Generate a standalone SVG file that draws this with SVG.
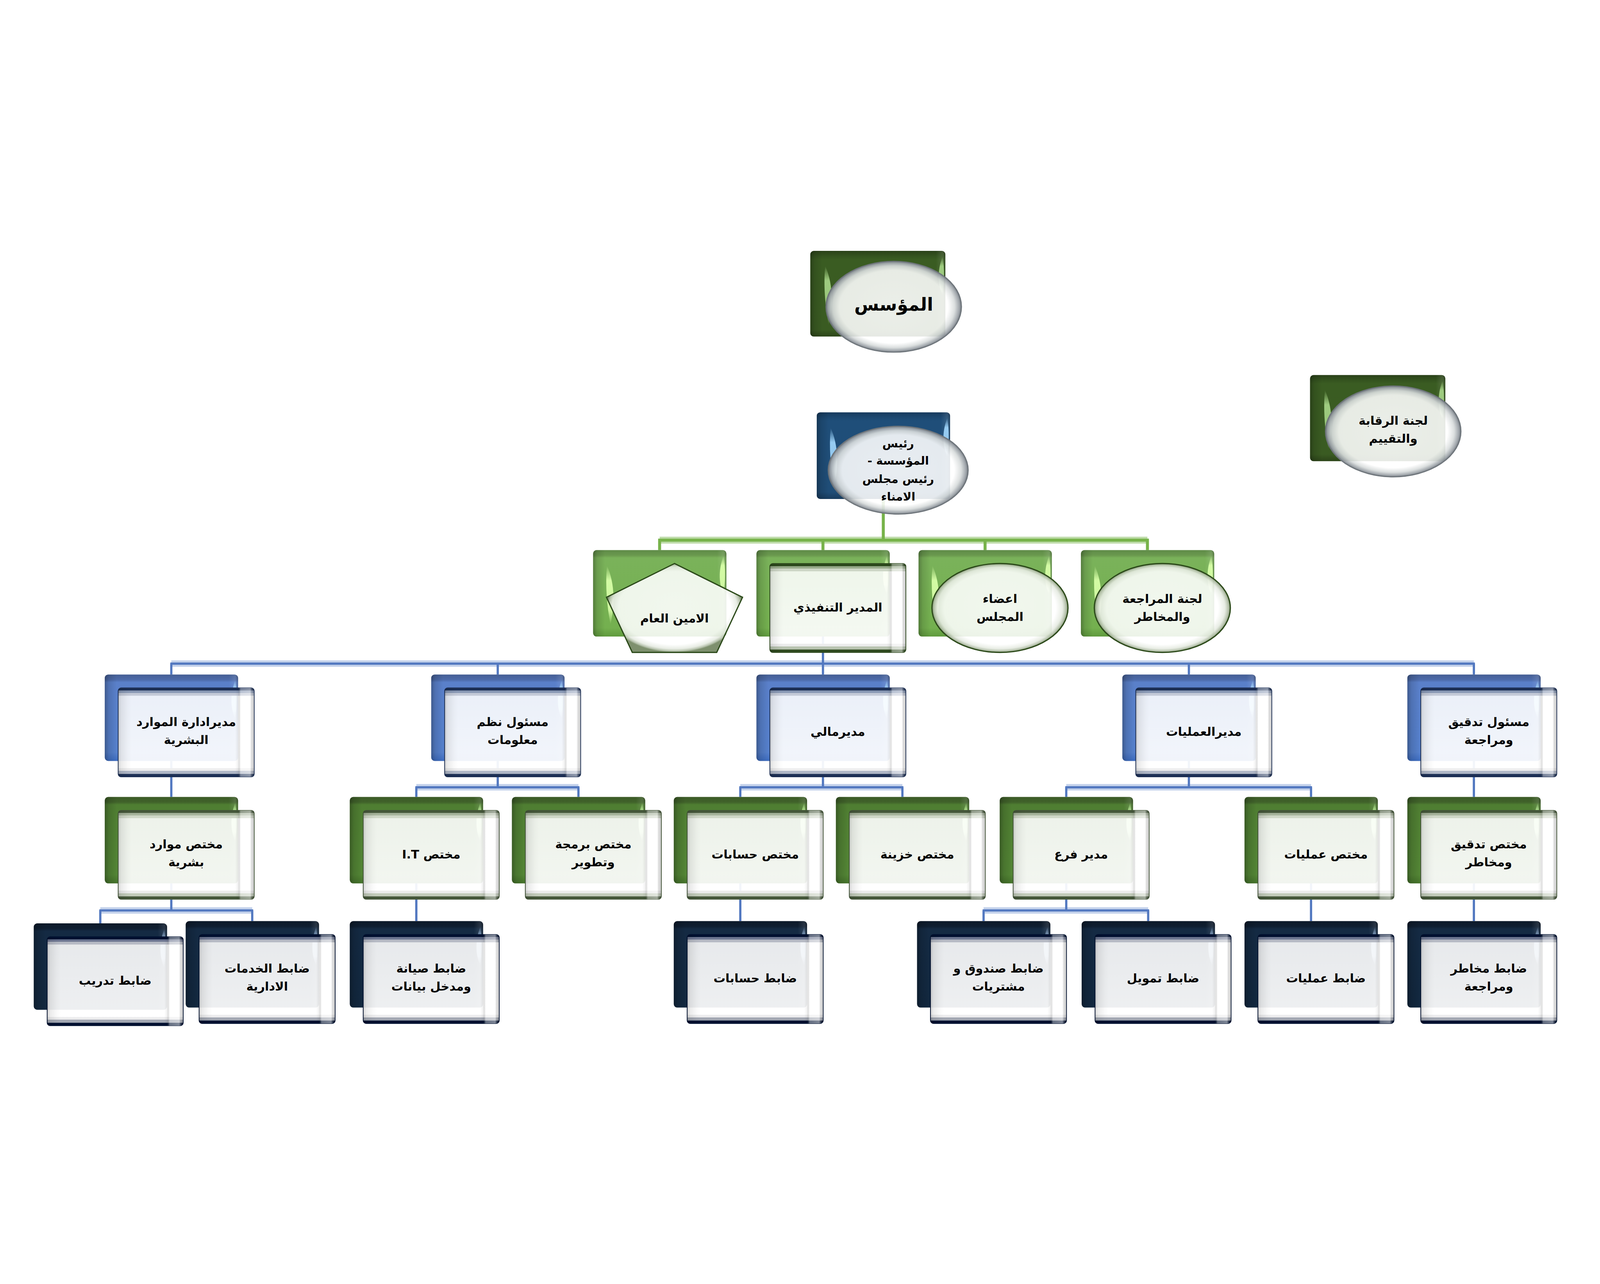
<svg xmlns="http://www.w3.org/2000/svg" width="6445" height="3286" viewBox="0 0 6445 3286" style="width:100vw;height:100vh">
<defs>
<style>
.t{font-family:"DejaVu Sans","Noto Sans",sans-serif;font-size:48px;font-weight:bold;fill:#000;text-anchor:middle;direction:rtl;unicode-bidi:embed}
.t1{font-size:46px}
.t0{font-size:72px}
.bdg{fill:url(#bk-dg)}.bdb{fill:url(#bk-db)}.blg{fill:url(#bk-lg)}.bb3{fill:url(#bk-b3)}.bg4{fill:url(#bk-g4)}.bn5{fill:url(#bk-n5)}
.bx{fill:url(#bx)}.fx{fill:url(#frx)}
.hdg{fill:url(#hl-dg)}.hdb{fill:url(#hl-db)}.hlg{fill:url(#hl-lg)}.hb3{fill:url(#hl-b3)}.hg4{fill:url(#hl-g4)}.hn5{fill:url(#hl-n5)}
.fg2{fill:url(#fr-g2);stroke:#2c481c;stroke-width:3}
.fb3{fill:url(#fr-b3);stroke:#1c2f55;stroke-width:3}
.fg4{fill:url(#fr-g4);stroke:#45573a;stroke-width:3}
.fn5{fill:url(#fr-n5);stroke:#001030;stroke-width:3}
.feg{fill:url(#fe-g);stroke:#2c4a1a;stroke-width:5}
.fes{fill:url(#fe-s);stroke:#6d747a;stroke-width:4}
.cg{fill:none;stroke:#77b34a;stroke-width:12}
.hgl{fill:none;stroke:#a9d08f;stroke-width:28;opacity:.75}
.cb{fill:none;stroke:#5278c0;stroke-width:9}
.hbl{fill:none;stroke:#b5c7e6;stroke-width:26;opacity:.8}
</style>
<linearGradient id="bk-dg" x1="0" y1="0" x2="0" y2="1"><stop offset="0" stop-color="#2a4119"/><stop offset=".06" stop-color="#34531f"/><stop offset=".1" stop-color="#3a5c22"/><stop offset=".92" stop-color="#3a5b22"/><stop offset="1" stop-color="#2c4419"/></linearGradient>
<linearGradient id="bk-db" x1="0" y1="0" x2="0" y2="1"><stop offset="0" stop-color="#173a5d"/><stop offset=".06" stop-color="#1c4870"/><stop offset=".1" stop-color="#1f4e79"/><stop offset=".92" stop-color="#1f4d77"/><stop offset="1" stop-color="#183c5e"/></linearGradient>
<linearGradient id="bk-lg" x1="0" y1="0" x2="0" y2="1"><stop offset="0" stop-color="#5f8b48"/><stop offset=".06" stop-color="#6a994e"/><stop offset=".09" stop-color="#7ab25a"/><stop offset=".9" stop-color="#74b04f"/><stop offset="1" stop-color="#5f9a3d"/></linearGradient>
<linearGradient id="bk-b3" x1="0" y1="0" x2="0" y2="1"><stop offset="0" stop-color="#455f94"/><stop offset=".06" stop-color="#4c6aa9"/><stop offset=".09" stop-color="#5a80ca"/><stop offset=".9" stop-color="#5580cc"/><stop offset="1" stop-color="#3d6cc0"/></linearGradient>
<linearGradient id="bk-g4" x1="0" y1="0" x2="0" y2="1"><stop offset="0" stop-color="#3c5b27"/><stop offset=".06" stop-color="#40622a"/><stop offset=".09" stop-color="#4f7e32"/><stop offset=".9" stop-color="#538535"/><stop offset="1" stop-color="#44722a"/></linearGradient>
<linearGradient id="bk-n5" x1="0" y1="0" x2="0" y2="1"><stop offset="0" stop-color="#0d1a2a"/><stop offset=".06" stop-color="#0f1e31"/><stop offset=".09" stop-color="#142a43"/><stop offset="1" stop-color="#12283f"/></linearGradient>
<linearGradient id="bx" x1="0" y1="0" x2="1" y2="0"><stop offset="0" stop-color="#000" stop-opacity=".3"/><stop offset=".03" stop-color="#000" stop-opacity=".12"/><stop offset=".09" stop-color="#000" stop-opacity="0"/><stop offset=".93" stop-color="#fff" stop-opacity="0"/><stop offset=".975" stop-color="#fff" stop-opacity=".1"/><stop offset="1" stop-color="#000" stop-opacity=".25"/></linearGradient>
<linearGradient id="hl-dg" x1="0" y1="0" x2="0" y2="1"><stop offset="0" stop-color="#a3d184" stop-opacity="0"/><stop offset=".25" stop-color="#a3d184" stop-opacity=".95"/><stop offset=".75" stop-color="#a3d184" stop-opacity=".9"/><stop offset="1" stop-color="#a3d184" stop-opacity="0"/></linearGradient>
<linearGradient id="hl-db" x1="0" y1="0" x2="0" y2="1"><stop offset="0" stop-color="#9cd2f8" stop-opacity="0"/><stop offset=".25" stop-color="#9cd2f8" stop-opacity=".95"/><stop offset=".75" stop-color="#9cd2f8" stop-opacity=".9"/><stop offset="1" stop-color="#9cd2f8" stop-opacity="0"/></linearGradient>
<linearGradient id="hl-lg" x1="0" y1="0" x2="0" y2="1"><stop offset="0" stop-color="#d8ffa8" stop-opacity="0"/><stop offset=".25" stop-color="#d8ffa8" stop-opacity=".95"/><stop offset=".75" stop-color="#d8ffa8" stop-opacity=".9"/><stop offset="1" stop-color="#d8ffa8" stop-opacity="0"/></linearGradient>
<linearGradient id="hl-b3" x1="0" y1="0" x2="0" y2="1"><stop offset="0" stop-color="#aee0ff" stop-opacity="0"/><stop offset=".25" stop-color="#aee0ff" stop-opacity=".95"/><stop offset=".75" stop-color="#aee0ff" stop-opacity=".9"/><stop offset="1" stop-color="#aee0ff" stop-opacity="0"/></linearGradient>
<linearGradient id="hl-g4" x1="0" y1="0" x2="0" y2="1"><stop offset="0" stop-color="#c4f8a0" stop-opacity="0"/><stop offset=".25" stop-color="#c4f8a0" stop-opacity=".95"/><stop offset=".75" stop-color="#c4f8a0" stop-opacity=".9"/><stop offset="1" stop-color="#c4f8a0" stop-opacity="0"/></linearGradient>
<linearGradient id="hl-n5" x1="0" y1="0" x2="0" y2="1"><stop offset="0" stop-color="#90aed0" stop-opacity="0"/><stop offset=".25" stop-color="#90aed0" stop-opacity=".95"/><stop offset=".75" stop-color="#90aed0" stop-opacity=".9"/><stop offset="1" stop-color="#90aed0" stop-opacity="0"/></linearGradient>
<linearGradient id="fr-n5" x1="0" y1="0" x2="0" y2="1"><stop offset="0" stop-color="#001030"/><stop offset=".028" stop-color="#001030"/><stop offset=".03" stop-color="#6c7590"/><stop offset=".055" stop-color="#6c7590"/><stop offset=".058" stop-color="#b6bac4"/><stop offset=".085" stop-color="#b6bac4"/><stop offset=".09" stop-color="#fff" stop-opacity=".9"/><stop offset=".9" stop-color="#fff" stop-opacity=".93"/><stop offset=".905" stop-color="#ededee"/><stop offset=".93" stop-color="#ededee"/><stop offset=".935" stop-color="#a2a7b2"/><stop offset=".965" stop-color="#a2a7b2"/><stop offset=".97" stop-color="#001030"/><stop offset="1" stop-color="#001030"/></linearGradient>
<linearGradient id="fr-b3" x1="0" y1="0" x2="0" y2="1"><stop offset="0" stop-color="#1c2f55"/><stop offset=".028" stop-color="#1c2f55"/><stop offset=".03" stop-color="#8797b4"/><stop offset=".055" stop-color="#8797b4"/><stop offset=".058" stop-color="#c3c9d7"/><stop offset=".085" stop-color="#c3c9d7"/><stop offset=".09" stop-color="#fff" stop-opacity=".88"/><stop offset=".9" stop-color="#fff" stop-opacity=".93"/><stop offset=".905" stop-color="#eeeeef"/><stop offset=".93" stop-color="#eeeeef"/><stop offset=".935" stop-color="#aeb6c6"/><stop offset=".965" stop-color="#aeb6c6"/><stop offset=".97" stop-color="#1c2f55"/><stop offset="1" stop-color="#1c2f55"/></linearGradient>
<linearGradient id="fr-g4" x1="0" y1="0" x2="0" y2="1"><stop offset="0" stop-color="#45573a"/><stop offset=".028" stop-color="#45573a"/><stop offset=".03" stop-color="#a6b39b"/><stop offset=".055" stop-color="#a6b39b"/><stop offset=".058" stop-color="#cfd7c7"/><stop offset=".085" stop-color="#cfd7c7"/><stop offset=".09" stop-color="#fff" stop-opacity=".9"/><stop offset=".9" stop-color="#fff" stop-opacity=".93"/><stop offset=".905" stop-color="#ececec"/><stop offset=".93" stop-color="#ececec"/><stop offset=".935" stop-color="#c2cbba"/><stop offset=".965" stop-color="#c2cbba"/><stop offset=".97" stop-color="#45573a"/><stop offset="1" stop-color="#45573a"/></linearGradient>
<linearGradient id="fr-g2" x1="0" y1="0" x2="0" y2="1"><stop offset="0" stop-color="#2c481c"/><stop offset=".028" stop-color="#2c481c"/><stop offset=".03" stop-color="#97aa8a"/><stop offset=".055" stop-color="#97aa8a"/><stop offset=".058" stop-color="#cdd6c6"/><stop offset=".085" stop-color="#cdd6c6"/><stop offset=".09" stop-color="#fff" stop-opacity=".88"/><stop offset=".9" stop-color="#fff" stop-opacity=".93"/><stop offset=".905" stop-color="#ececec"/><stop offset=".93" stop-color="#ececec"/><stop offset=".935" stop-color="#b8c3b0"/><stop offset=".965" stop-color="#b8c3b0"/><stop offset=".97" stop-color="#2f4a1f"/><stop offset="1" stop-color="#2f4a1f"/></linearGradient>
<linearGradient id="frx" x1="0" y1="0" x2="1" y2="0"><stop offset="0" stop-color="#000" stop-opacity=".18"/><stop offset=".02" stop-color="#000" stop-opacity=".08"/><stop offset=".07" stop-color="#000" stop-opacity=".02"/><stop offset=".1" stop-color="#000" stop-opacity="0"/><stop offset=".86" stop-color="#000" stop-opacity="0"/><stop offset=".88" stop-color="#000" stop-opacity=".05"/><stop offset=".9" stop-color="#fff" stop-opacity=".4"/><stop offset=".97" stop-color="#fff" stop-opacity=".5"/><stop offset="1" stop-color="#000" stop-opacity=".12"/></linearGradient>
<radialGradient id="fe-g" cx=".5" cy=".5" r=".5"><stop offset="0" stop-color="#fff" stop-opacity=".9"/><stop offset=".82" stop-color="#fff" stop-opacity=".88"/><stop offset=".92" stop-color="#e6ebe2" stop-opacity=".92"/><stop offset=".97" stop-color="#b4c0aa" stop-opacity=".95"/><stop offset="1" stop-color="#7e906e"/></radialGradient>
<radialGradient id="fe-s" cx=".5" cy=".5" r=".5"><stop offset="0" stop-color="#fff" stop-opacity=".9"/><stop offset=".8" stop-color="#fff" stop-opacity=".88"/><stop offset=".9" stop-color="#d8dcdc" stop-opacity=".92"/><stop offset=".97" stop-color="#9aa0a6" stop-opacity=".95"/><stop offset="1" stop-color="#6a7076"/></radialGradient>
</defs>
<rect width="6445" height="3286" fill="#fff"/>

<g id="connectors">
<path class="hgl" d="M2657,1233 H4622"/>
<path class="cg" d="M3558,1067 V1233 M2651,1233 H4628 M2657,1233 V1273 M3315,1233 V1273 M3968,1233 V1273 M4622,1233 V1273"/>
<path class="hbl" d="M690,1730 H5937 M1677,2228 H2330 M2982,2228 H3635 M4295,2228 H5281 M404,2724 H1016 M3962,2724 H4625"/>
<path class="cb" d="M3315,1621 V1730 M686,1730 H5941 M690,1730 V1774 M2005,1730 V1774 M3315,1730 V1774 M4789,1730 V1774 M5937,1730 V1774
M690,2122 V2267 M2005,2122 V2228 M1673,2228 H2334 M1677,2228 V2267 M2330,2228 V2267
M3315,2122 V2228 M2978,2228 H3639 M2982,2228 V2267 M3635,2228 V2267
M4789,2122 V2228 M4291,2228 H5285 M4295,2228 V2267 M5281,2228 V2267 M5937,2122 V2267
M690,2615 V2724 M400,2724 H1020 M404,2724 V2776 M1016,2724 V2767 M1677,2615 V2767 M2982,2615 V2767
M4295,2615 V2724 M3958,2724 H4629 M3962,2724 V2767 M4625,2724 V2767 M5281,2615 V2767 M5937,2615 V2767"/>
</g>

<g id="n-founder" transform="translate(3264,68)">
<rect class="bdg" width="544" height="345" rx="14"/><rect class="bx" width="544" height="345" rx="14"/>
<path class="hdg" d="M533,22 C541,70 540,130 533,180 C515,140 509,85 533,22 Z"/>
<path class="hdg" d="M60,60 C90,128 94,213 74,298 C59,218 53,138 60,60 Z"/>
<ellipse class="fes" cx="336" cy="225" rx="273" ry="183"/>
<text class="t t0" x="336" y="240">المؤسس</text>
</g>

<g id="n-oversight" transform="translate(5277,568)">
<rect class="bdg" width="545" height="347" rx="14"/><rect class="bx" width="545" height="347" rx="14"/>
<path class="hdg" d="M534,22 C542,70 541,130 534,180 C516,140 510,85 534,22 Z"/>
<path class="hdg" d="M60,60 C90,128 94,213 74,298 C59,218 53,138 60,60 Z"/>
<ellipse class="fes" cx="335" cy="227" rx="273" ry="183"/>
<text class="t" x="335" y="200">لجنة الرقابة</text>
<text class="t" x="335" y="273">والتقييم</text>
</g>

<g id="n-chairman" transform="translate(3290,718)">
<rect class="bdb" width="537" height="349" rx="14"/><rect class="bx" width="537" height="349" rx="14"/>
<path class="hdb" d="M526,22 C534,70 533,130 526,180 C508,140 502,85 526,22 Z"/>
<path class="hdb" d="M56,62 C86,130 90,215 70,300 C55,220 49,140 56,62 Z"/>
<ellipse class="fes" cx="328" cy="233" rx="282" ry="177"/>
<text class="t t1" x="328" y="142">رئيس</text>
<text class="t t1" x="328" y="211">المؤسسة -</text>
<text class="t t1" x="328" y="284">رئيس مجلس</text>
<text class="t t1" x="328" y="355">الامناء</text>
</g>

<g id="n-secretary" transform="translate(2389,1273)">
<rect class="blg" width="537" height="348" rx="14"/><rect class="bx" width="537" height="348" rx="14"/>
<path class="hlg" d="M526,22 C534,70 533,130 526,180 C508,140 502,85 526,22 Z"/>
<path class="hlg" d="M56,62 C86,130 90,215 70,300 C55,220 49,140 56,62 Z"/>
<polygon class="feg" points="328,54 602,190 498,412 158,412 54,190"/>
<text class="t" x="328" y="292">الامين العام</text>
</g>

<g id="n-ceo" transform="translate(3047,1273)">
<rect class="blg" width="537" height="348" rx="14"/><rect class="bx" width="537" height="348" rx="14"/>
<path class="hlg" d="M526,22 C534,70 533,130 526,180 C508,140 502,85 526,22 Z"/>
<rect class="fg2" x="54" y="54" width="548" height="358" rx="12"/><rect class="fx" x="54" y="54" width="548" height="358" rx="12"/>
<text class="t" x="328" y="248">المدير التنفيذي</text>
</g>

<g id="n-board" transform="translate(3700,1273)">
<rect class="blg" width="537" height="348" rx="14"/><rect class="bx" width="537" height="348" rx="14"/>
<path class="hlg" d="M526,22 C534,70 533,130 526,180 C508,140 502,85 526,22 Z"/>
<path class="hlg" d="M56,62 C86,130 90,215 70,300 C55,220 49,140 56,62 Z"/>
<ellipse class="feg" cx="328" cy="233" rx="274" ry="179"/>
<text class="t" x="328" y="213">اعضاء</text>
<text class="t" x="328" y="285">المجلس</text>
</g>

<g id="n-audit-committee" transform="translate(4354,1273)">
<rect class="blg" width="537" height="348" rx="14"/><rect class="bx" width="537" height="348" rx="14"/>
<path class="hlg" d="M526,22 C534,70 533,130 526,180 C508,140 502,85 526,22 Z"/>
<path class="hlg" d="M56,62 C86,130 90,215 70,300 C55,220 49,140 56,62 Z"/>
<ellipse class="feg" cx="328" cy="233" rx="274" ry="179"/>
<text class="t" x="328" y="213">لجنة المراجعة</text>
<text class="t" x="328" y="285">والمخاطر</text>
</g>

<g id="n-hr-manager" transform="translate(422,1774)">
<rect class="bb3" width="537" height="348" rx="14"/><rect class="bx" width="537" height="348" rx="14"/>
<path class="hb3" d="M526,22 C534,70 533,130 526,180 C508,140 502,85 526,22 Z"/>
<rect class="fb3" x="54" y="54" width="548" height="358" rx="12"/><rect class="fx" x="54" y="54" width="548" height="358" rx="12"/>
<text class="t" x="328" y="207">مديرادارة الموارد</text>
<text class="t" x="328" y="279">البشرية</text>
</g>

<g id="n-is-officer" transform="translate(1737,1774)">
<rect class="bb3" width="537" height="348" rx="14"/><rect class="bx" width="537" height="348" rx="14"/>
<path class="hb3" d="M526,22 C534,70 533,130 526,180 C508,140 502,85 526,22 Z"/>
<rect class="fb3" x="54" y="54" width="548" height="358" rx="12"/><rect class="fx" x="54" y="54" width="548" height="358" rx="12"/>
<text class="t" x="328" y="207">مسئول نظم</text>
<text class="t" x="328" y="279">معلومات</text>
</g>

<g id="n-finance-manager" transform="translate(3047,1774)">
<rect class="bb3" width="537" height="348" rx="14"/><rect class="bx" width="537" height="348" rx="14"/>
<path class="hb3" d="M526,22 C534,70 533,130 526,180 C508,140 502,85 526,22 Z"/>
<rect class="fb3" x="54" y="54" width="548" height="358" rx="12"/><rect class="fx" x="54" y="54" width="548" height="358" rx="12"/>
<text class="t" x="328" y="247">مديرمالي</text>
</g>

<g id="n-operations-manager" transform="translate(4521,1774)">
<rect class="bb3" width="537" height="348" rx="14"/><rect class="bx" width="537" height="348" rx="14"/>
<path class="hb3" d="M526,22 C534,70 533,130 526,180 C508,140 502,85 526,22 Z"/>
<rect class="fb3" x="54" y="54" width="548" height="358" rx="12"/><rect class="fx" x="54" y="54" width="548" height="358" rx="12"/>
<text class="t" x="328" y="247">مديرالعمليات</text>
</g>

<g id="n-audit-officer" transform="translate(5669,1774)">
<rect class="bb3" width="537" height="348" rx="14"/><rect class="bx" width="537" height="348" rx="14"/>
<path class="hb3" d="M526,22 C534,70 533,130 526,180 C508,140 502,85 526,22 Z"/>
<rect class="fb3" x="54" y="54" width="548" height="358" rx="12"/><rect class="fx" x="54" y="54" width="548" height="358" rx="12"/>
<text class="t" x="328" y="207">مسئول تدقيق</text>
<text class="t" x="328" y="279">ومراجعة</text>
</g>

<g id="n-hr-specialist" transform="translate(422,2267)">
<rect class="bg4" width="537" height="348" rx="14"/><rect class="bx" width="537" height="348" rx="14"/>
<path class="hg4" d="M526,22 C534,70 533,130 526,180 C508,140 502,85 526,22 Z"/>
<rect class="fg4" x="54" y="54" width="548" height="358" rx="12"/><rect class="fx" x="54" y="54" width="548" height="358" rx="12"/>
<text class="t" x="328" y="207">مختص موارد</text>
<text class="t" x="328" y="279">بشرية</text>
</g>

<g id="n-it-specialist" transform="translate(1409,2267)">
<rect class="bg4" width="537" height="348" rx="14"/><rect class="bx" width="537" height="348" rx="14"/>
<path class="hg4" d="M526,22 C534,70 533,130 526,180 C508,140 502,85 526,22 Z"/>
<rect class="fg4" x="54" y="54" width="548" height="358" rx="12"/><rect class="fx" x="54" y="54" width="548" height="358" rx="12"/>
<text class="t" x="328" y="247">مختص I.T</text>
</g>

<g id="n-dev-specialist" transform="translate(2062,2267)">
<rect class="bg4" width="537" height="348" rx="14"/><rect class="bx" width="537" height="348" rx="14"/>
<path class="hg4" d="M526,22 C534,70 533,130 526,180 C508,140 502,85 526,22 Z"/>
<rect class="fg4" x="54" y="54" width="548" height="358" rx="12"/><rect class="fx" x="54" y="54" width="548" height="358" rx="12"/>
<text class="t" x="328" y="207">مختص برمجة</text>
<text class="t" x="328" y="279">وتطوير</text>
</g>

<g id="n-accounts-specialist" transform="translate(2714,2267)">
<rect class="bg4" width="537" height="348" rx="14"/><rect class="bx" width="537" height="348" rx="14"/>
<path class="hg4" d="M526,22 C534,70 533,130 526,180 C508,140 502,85 526,22 Z"/>
<rect class="fg4" x="54" y="54" width="548" height="358" rx="12"/><rect class="fx" x="54" y="54" width="548" height="358" rx="12"/>
<text class="t" x="328" y="247">مختص حسابات</text>
</g>

<g id="n-treasury-specialist" transform="translate(3367,2267)">
<rect class="bg4" width="537" height="348" rx="14"/><rect class="bx" width="537" height="348" rx="14"/>
<path class="hg4" d="M526,22 C534,70 533,130 526,180 C508,140 502,85 526,22 Z"/>
<rect class="fg4" x="54" y="54" width="548" height="358" rx="12"/><rect class="fx" x="54" y="54" width="548" height="358" rx="12"/>
<text class="t" x="328" y="247">مختص خزينة</text>
</g>

<g id="n-branch-manager" transform="translate(4027,2267)">
<rect class="bg4" width="537" height="348" rx="14"/><rect class="bx" width="537" height="348" rx="14"/>
<path class="hg4" d="M526,22 C534,70 533,130 526,180 C508,140 502,85 526,22 Z"/>
<rect class="fg4" x="54" y="54" width="548" height="358" rx="12"/><rect class="fx" x="54" y="54" width="548" height="358" rx="12"/>
<text class="t" x="328" y="247">مدير فرع</text>
</g>

<g id="n-operations-specialist" transform="translate(5013,2267)">
<rect class="bg4" width="537" height="348" rx="14"/><rect class="bx" width="537" height="348" rx="14"/>
<path class="hg4" d="M526,22 C534,70 533,130 526,180 C508,140 502,85 526,22 Z"/>
<rect class="fg4" x="54" y="54" width="548" height="358" rx="12"/><rect class="fx" x="54" y="54" width="548" height="358" rx="12"/>
<text class="t" x="328" y="247">مختص عمليات</text>
</g>

<g id="n-risk-specialist" transform="translate(5669,2267)">
<rect class="bg4" width="537" height="348" rx="14"/><rect class="bx" width="537" height="348" rx="14"/>
<path class="hg4" d="M526,22 C534,70 533,130 526,180 C508,140 502,85 526,22 Z"/>
<rect class="fg4" x="54" y="54" width="548" height="358" rx="12"/><rect class="fx" x="54" y="54" width="548" height="358" rx="12"/>
<text class="t" x="328" y="207">مختص تدقيق</text>
<text class="t" x="328" y="279">ومخاطر</text>
</g>

<g id="n-training-officer" transform="translate(136,2776)">
<rect class="bn5" width="537" height="348" rx="14"/><rect class="bx" width="537" height="348" rx="14"/>
<path class="hn5" d="M526,22 C534,70 533,130 526,180 C508,140 502,85 526,22 Z"/>
<rect class="fn5" x="54" y="54" width="548" height="358" rx="12"/><rect class="fx" x="54" y="54" width="548" height="358" rx="12"/>
<text class="t" x="328" y="247">ضابط تدريب</text>
</g>

<g id="n-admin-officer" transform="translate(748,2767)">
<rect class="bn5" width="537" height="348" rx="14"/><rect class="bx" width="537" height="348" rx="14"/>
<path class="hn5" d="M526,22 C534,70 533,130 526,180 C508,140 502,85 526,22 Z"/>
<rect class="fn5" x="54" y="54" width="548" height="358" rx="12"/><rect class="fx" x="54" y="54" width="548" height="358" rx="12"/>
<text class="t" x="328" y="207">ضابط الخدمات</text>
<text class="t" x="328" y="279">الادارية</text>
</g>

<g id="n-maintenance-officer" transform="translate(1409,2767)">
<rect class="bn5" width="537" height="348" rx="14"/><rect class="bx" width="537" height="348" rx="14"/>
<path class="hn5" d="M526,22 C534,70 533,130 526,180 C508,140 502,85 526,22 Z"/>
<rect class="fn5" x="54" y="54" width="548" height="358" rx="12"/><rect class="fx" x="54" y="54" width="548" height="358" rx="12"/>
<text class="t" x="328" y="207">ضابط صيانة</text>
<text class="t" x="328" y="279">ومدخل بيانات</text>
</g>

<g id="n-accounts-officer" transform="translate(2714,2767)">
<rect class="bn5" width="537" height="348" rx="14"/><rect class="bx" width="537" height="348" rx="14"/>
<path class="hn5" d="M526,22 C534,70 533,130 526,180 C508,140 502,85 526,22 Z"/>
<rect class="fn5" x="54" y="54" width="548" height="358" rx="12"/><rect class="fx" x="54" y="54" width="548" height="358" rx="12"/>
<text class="t" x="328" y="247">ضابط حسابات</text>
</g>

<g id="n-cashier-officer" transform="translate(3694,2767)">
<rect class="bn5" width="537" height="348" rx="14"/><rect class="bx" width="537" height="348" rx="14"/>
<path class="hn5" d="M526,22 C534,70 533,130 526,180 C508,140 502,85 526,22 Z"/>
<rect class="fn5" x="54" y="54" width="548" height="358" rx="12"/><rect class="fx" x="54" y="54" width="548" height="358" rx="12"/>
<text class="t" x="328" y="207">ضابط صندوق و</text>
<text class="t" x="328" y="279">مشتريات</text>
</g>

<g id="n-finance-officer" transform="translate(4357,2767)">
<rect class="bn5" width="537" height="348" rx="14"/><rect class="bx" width="537" height="348" rx="14"/>
<path class="hn5" d="M526,22 C534,70 533,130 526,180 C508,140 502,85 526,22 Z"/>
<rect class="fn5" x="54" y="54" width="548" height="358" rx="12"/><rect class="fx" x="54" y="54" width="548" height="358" rx="12"/>
<text class="t" x="328" y="247">ضابط تمويل</text>
</g>

<g id="n-operations-officer" transform="translate(5013,2767)">
<rect class="bn5" width="537" height="348" rx="14"/><rect class="bx" width="537" height="348" rx="14"/>
<path class="hn5" d="M526,22 C534,70 533,130 526,180 C508,140 502,85 526,22 Z"/>
<rect class="fn5" x="54" y="54" width="548" height="358" rx="12"/><rect class="fx" x="54" y="54" width="548" height="358" rx="12"/>
<text class="t" x="328" y="247">ضابط عمليات</text>
</g>

<g id="n-risk-officer" transform="translate(5669,2767)">
<rect class="bn5" width="537" height="348" rx="14"/><rect class="bx" width="537" height="348" rx="14"/>
<path class="hn5" d="M526,22 C534,70 533,130 526,180 C508,140 502,85 526,22 Z"/>
<rect class="fn5" x="54" y="54" width="548" height="358" rx="12"/><rect class="fx" x="54" y="54" width="548" height="358" rx="12"/>
<text class="t" x="328" y="207">ضابط مخاطر</text>
<text class="t" x="328" y="279">ومراجعة</text>
</g>
</svg>
